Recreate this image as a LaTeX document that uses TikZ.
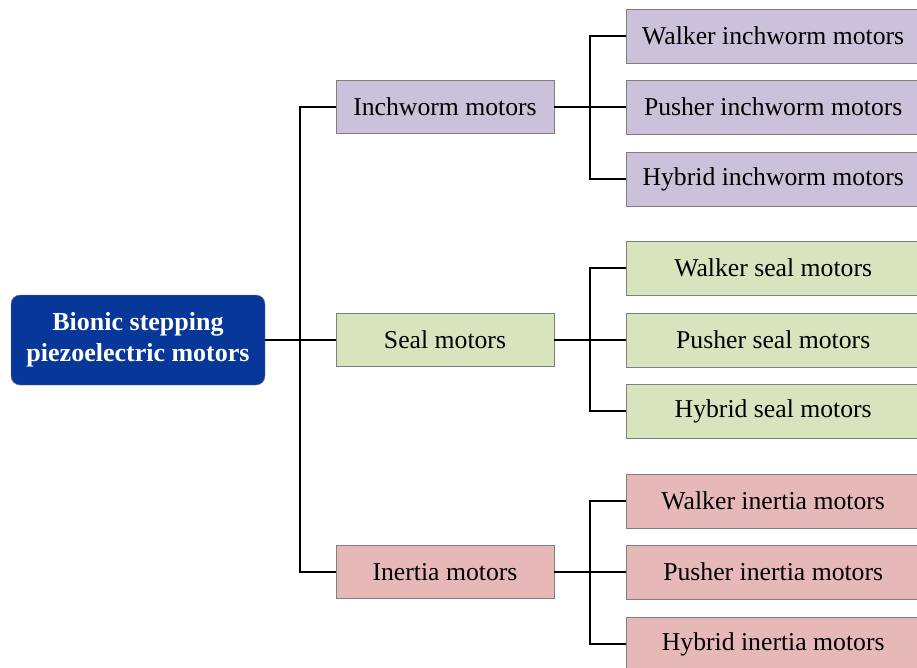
\documentclass[tikz,border=0pt]{standalone}
\usepackage{fontspec}
\setmainfont{Liberation Serif}
\usepackage{xcolor}
\definecolor{rootblue}{HTML}{08379A}
\definecolor{inchpurple}{HTML}{CCC1DA}
\definecolor{sealgreen}{HTML}{D7E4BD}
\definecolor{inertpink}{HTML}{E6B9B8}
\definecolor{boxgray}{HTML}{7F7F7F}

\begin{document}
\begin{tikzpicture}[x=1pt, y=-1pt,
  every node/.style={inner sep=0pt, font=\fontsize{25.7}{31}\selectfont},
  rootbox/.style={draw=boxgray, fill=rootblue, rounded corners=9pt, text=white,
    font=\fontsize{26}{31}\selectfont\bfseries, align=center,
    minimum width=254pt, minimum height=90pt},
  midbox/.style={draw=boxgray, fill=#1, minimum width=218pt, minimum height=53pt},
  leafbox/.style={draw=boxgray, fill=#1, anchor=west, minimum width=294pt, minimum height=54pt},
  link/.style={line width=2.5pt}]
\useasboundingbox (0,0) rectangle (917,667);

% === Root ===
\node[rootbox] (root) at (138,340) {Bionic stepping\\piezoelectric motors};

% === Motor families ===
\node[midbox=inchpurple] (inch) at (445,107) {Inchworm motors};
\node[midbox=sealgreen] (seal) at (445,340) {Seal motors};
\node[midbox=inertpink] (inert) at (445,572) {Inertia motors};

% === Sub-types ===
\node[leafbox=inchpurple] (wkinch) at (626,36) {Walker inchworm motors};
\node[leafbox=inchpurple] (puinch) at (626,107) {Pusher inchworm motors};
\node[leafbox=inchpurple] (hyinch) at (626,179) {Hybrid inchworm motors};

\node[leafbox=sealgreen] (wkseal) at (626,268) {Walker seal motors};
\node[leafbox=sealgreen] (puseal) at (626,340) {Pusher seal motors};
\node[leafbox=sealgreen] (hyseal) at (626,411) {Hybrid seal motors};

\node[leafbox=inertpink] (wkinert) at (626,501) {Walker inertia motors};
\node[leafbox=inertpink] (puinert) at (626,572) {Pusher inertia motors};
\node[leafbox=inertpink] (hyinert) at (626,644) {Hybrid inertia motors};

% Trunk from the root
\coordinate (trunk) at (300,340);
\draw[link] (root.east) -- (seal.west);
\draw[link] (inch.west) -| (trunk) |- (inert.west);

% Branches to the sub-types
\foreach \m/\k in {inch/inch, seal/seal, inert/inert} {
  \draw[link] (\m.east) -- (pu\k.west);
  \draw[link] (wk\k.west) -- ++(-36,0) |- (hy\k.west);
}
\end{tikzpicture}
\end{document}
